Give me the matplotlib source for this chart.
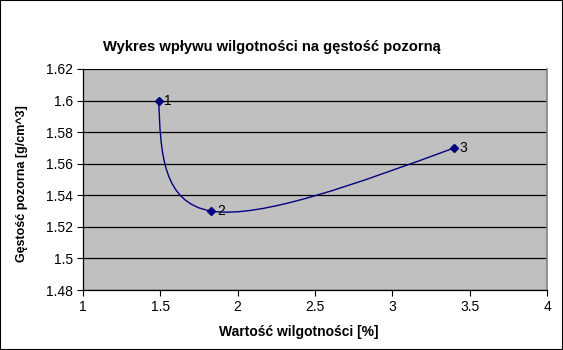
import numpy as np
import matplotlib
matplotlib.use("Agg")
from matplotlib import pyplot as plt
from matplotlib.path import Path
from matplotlib.patches import PathPatch, Rectangle

# data
wilgotnosc = [1.49, 1.83, 3.40]   # moisture [%]
gestosc = [1.60, 1.53, 1.57]      # bulk density [g/cm^3]
etykiety = ["1", "2", "3"]

x_ticks = [1, 1.5, 2, 2.5, 3, 3.5, 4]
y_ticks = [1.48, 1.5, 1.52, 1.54, 1.56, 1.58, 1.6, 1.62]

plt.rcParams['font.family'] = ['Liberation Sans', 'DejaVu Sans']

fig = plt.figure(figsize=(5.63, 3.5), dpi=100)
fig.patch.set_facecolor('white')
fig.add_artist(Rectangle((0, 0), 1, 1, transform=fig.transFigure, fill=False,
                         edgecolor='black', linewidth=1.5, clip_on=False))
ax = fig.add_axes([83/563, 1-290/350, (547-83)/563, (290-69)/350])
ax.set_facecolor('#c0c0c0')

ax.set_xlim(1, 4)
ax.set_ylim(1.48, 1.62)
ax.set_xticks(x_ticks)
ax.set_yticks(y_ticks)
ax.set_xticklabels([f"{v:g}" for v in x_ticks])
ax.set_yticklabels([f"{v:g}" for v in y_ticks])
ax.tick_params(axis='both', direction='out', length=4, width=0.8, colors='black',
               labelsize=10, pad=3)
ax.yaxis.grid(True, color='black', linewidth=0.9)
ax.set_axisbelow(True)
for s in ['left', 'bottom']:
    ax.spines[s].set_color('black')
    ax.spines[s].set_linewidth(0.9)
ax.spines['top'].set_visible(False)
ax.spines['right'].set_color('#808080')
ax.spines['right'].set_linewidth(1.2)

# smoothed line: natural cubic spline (uniform parameter) drawn as Bezier path
P = np.column_stack([wilgotnosc, gestosc])
n = len(P)
A = np.zeros((n, n))
rhs = np.zeros((n, 2))
A[0, 0] = A[-1, -1] = 1
for i in range(1, n-1):
    A[i, i-1], A[i, i], A[i, i+1] = 1, 4, 1
    rhs[i] = 6 * (P[i-1] - 2*P[i] + P[i+1])
M = np.linalg.solve(A, rhs)
verts = [P[0]]
codes = [Path.MOVETO]
for i in range(n-1):
    d = P[i+1] - P[i]
    d0 = d - (2*M[i] + M[i+1]) / 6
    d1 = d + (M[i] + 2*M[i+1]) / 6
    verts += [P[i] + d0/3, P[i+1] - d1/3, P[i+1]]
    codes += [Path.CURVE4] * 3
ax.add_patch(PathPatch(Path(verts, codes), facecolor='none', edgecolor='#000080',
                       linewidth=1.0, zorder=3))
ax.plot(wilgotnosc, gestosc, linestyle='none', marker='D', markersize=4.5,
        color='#000080', zorder=4)
for xv, yv, t in zip(wilgotnosc, gestosc, etykiety):
    ax.annotate(t, (xv, yv), xytext=(4, 0), textcoords='offset points',
                va='center', ha='left', fontsize=10, zorder=5)

fig.text(272/563, 1-47/350, "Wykres wpływu wilgotności na gęstość pozorną",
         ha='center', va='center', fontsize=10.6, fontweight='bold')
fig.text(299/563, 1-332/350, "Wartość wilgotności [%]",
         ha='center', va='center', fontsize=10, fontweight='bold')
fig.text(22/563, 1-184/350, "Gęstość pozorna [g/cm^3]", rotation=90,
         ha='center', va='center', fontsize=9, fontweight='bold')

plt.savefig("out.png", dpi=100)
